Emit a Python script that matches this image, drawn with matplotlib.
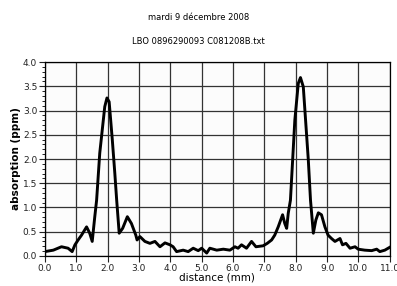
import matplotlib
matplotlib.use("Agg")
import matplotlib.pyplot as plt
from matplotlib.ticker import MultipleLocator

# profil d'absorption
distance = [0.0, 0.27, 0.53, 0.74, 0.87, 0.96, 1.06, 1.17, 1.33, 1.43, 1.51, 1.59, 1.65, 1.75,
            1.91, 1.98, 2.05, 2.15, 2.23, 2.29, 2.37, 2.48, 2.63, 2.76, 2.9, 2.94, 3.03, 3.19,
            3.35, 3.51, 3.67, 3.83, 3.99, 4.09, 4.2, 4.41, 4.57, 4.73, 4.89, 5.0, 5.16, 5.26,
            5.48, 5.69, 5.9, 6.06, 6.16, 6.27, 6.43, 6.59, 6.73, 6.96, 7.09, 7.23, 7.33, 7.44,
            7.58, 7.65, 7.71, 7.76, 7.83, 7.97, 8.08, 8.15, 8.24, 8.4, 8.47, 8.56, 8.64, 8.72,
            8.82, 8.93, 9.03, 9.14, 9.25, 9.41, 9.49, 9.6, 9.73, 9.89, 9.99, 10.2, 10.42, 10.58,
            10.68, 10.84, 11.0]
absorption = [0.09, 0.12, 0.19, 0.16, 0.09, 0.23, 0.33, 0.43, 0.60, 0.47, 0.30, 0.80, 1.15, 2.12,
              3.08, 3.26, 3.18, 2.40, 1.71, 1.15, 0.47, 0.57, 0.81, 0.67, 0.43, 0.33, 0.40, 0.30,
              0.26, 0.30, 0.19, 0.27, 0.23, 0.19, 0.09, 0.12, 0.09, 0.16, 0.11, 0.16, 0.06, 0.16,
              0.12, 0.14, 0.12, 0.19, 0.16, 0.23, 0.16, 0.30, 0.19, 0.21, 0.26, 0.33, 0.43, 0.60,
              0.85, 0.67, 0.57, 0.88, 1.15, 2.80, 3.56, 3.68, 3.49, 1.98, 1.15, 0.47, 0.74, 0.89,
              0.85, 0.60, 0.43, 0.36, 0.30, 0.36, 0.23, 0.26, 0.16, 0.19, 0.14, 0.12, 0.11, 0.14,
              0.09, 0.12, 0.18]

xticks = [0, 1, 2, 3, 4, 5, 6, 7, 8, 9, 10, 11]

fig = plt.figure(figsize=(3.97, 2.86), dpi=100)
ax = fig.add_axes([0.113, 0.105, 0.869, 0.678])
ax.set_facecolor("#fcfcfc")

ax.plot(distance, absorption, color="black", lw=2.1, solid_joinstyle="round")

ax.set_xlim(0, 11)
ax.set_ylim(0, 4)
ax.set_xticks(xticks)
ax.set_xticklabels(["%.1f" % t for t in xticks])
ax.yaxis.set_major_locator(MultipleLocator(0.5))
ax.yaxis.set_major_formatter(plt.FormatStrFormatter("%.1f"))
ax.yaxis.set_minor_locator(MultipleLocator(0.1))
ax.grid(True, which="major", color="#333333", lw=0.9)
ax.tick_params(which="major", length=4, width=0.8, labelsize=6.5, pad=1.5, colors="#222222")
ax.tick_params(which="minor", length=2, width=0.6)
for s in ax.spines.values():
    s.set_color("black")
    s.set_linewidth(0.9)

ax.set_xlabel("distance (mm)", fontsize=7.5, labelpad=0)
ax.set_ylabel("absorption (ppm)", fontsize=7.5, labelpad=1, fontweight="bold")

fig.text(0.5, 1 - 18 / 286, "mardi 9 décembre 2008", ha="center", va="center", fontsize=6)
fig.text(0.5, 1 - 42 / 286, "LBO 0896290093 C081208B.txt", ha="center", va="center", fontsize=6)

fig.savefig("out.png", dpi=100)
